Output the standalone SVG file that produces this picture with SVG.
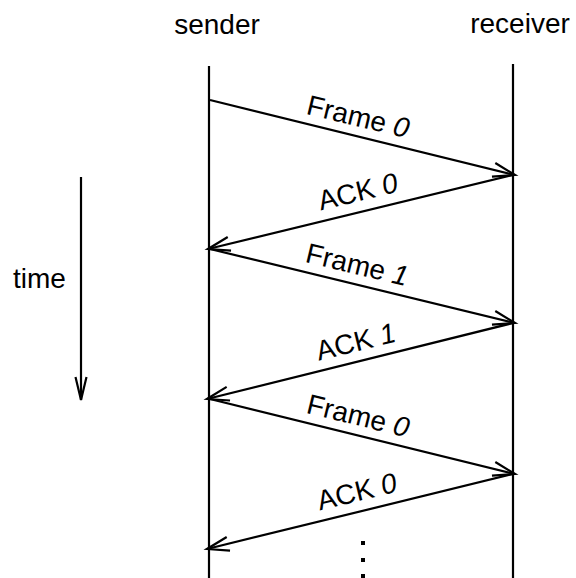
<svg xmlns="http://www.w3.org/2000/svg" width="576" height="578" viewBox="0 0 576 578">
<style>
text{font-family:"Liberation Sans",Arial,sans-serif;font-size:28px;fill:#000}
.d{font-style:italic}
.ln{stroke:#000;stroke-width:2.2;fill:none}
.ar{stroke:#000;stroke-width:2.2;fill:none;marker-end:url(#ah)}
</style>
<defs>
<marker id="ah" markerUnits="userSpaceOnUse" viewBox="-24 -8 26 16" refX="0" refY="0" markerWidth="26" markerHeight="16" orient="auto" overflow="visible">
<path d="M-22,-7 L0,0 L-22,7" fill="none" stroke="#000" stroke-width="2.2"/>
</marker>
<marker id="ta" markerUnits="userSpaceOnUse" viewBox="-26 -8 28 16" refX="0" refY="0" markerWidth="28" markerHeight="16" orient="auto" overflow="visible">
<path d="M-23,-5.5 L0,0 L-23,5.5" fill="none" stroke="#000" stroke-width="2.2"/>
</marker>
</defs>
<g id="sender">
<text x="217" y="34" text-anchor="middle">sender</text>
<line class="ln" x1="209" y1="66" x2="209" y2="578"/>
</g>
<g id="receiver">
<text x="520" y="33" text-anchor="middle">receiver</text>
<line class="ln" x1="513" y1="64" x2="513" y2="578"/>
</g>
<g id="time">
<text x="13" y="288">time</text>
<line class="ln" x1="81" y1="177" x2="81" y2="400" style="marker-end:url(#ta)"/>
</g>
<g id="connectors">
<line class="ar" x1="210" y1="100" x2="515" y2="175"/>
<line class="ar" x1="513" y1="175" x2="208" y2="249"/>
<line class="ar" x1="210" y1="249" x2="515" y2="323"/>
<line class="ar" x1="513" y1="323" x2="207" y2="399"/>
<line class="ar" x1="210" y1="399" x2="515" y2="474"/>
<line class="ar" x1="513" y1="474" x2="207" y2="549"/>
</g>
<g id="labels">
<text transform="translate(356,126) rotate(13.5)" text-anchor="middle">Frame <tspan class="d">0</tspan></text>
<text transform="translate(360,201) rotate(-13.7)" text-anchor="middle">ACK <tspan class="d">0</tspan></text>
<text transform="translate(355,274) rotate(13.5)" text-anchor="middle">Frame <tspan class="d">1</tspan></text>
<text transform="translate(358,351) rotate(-13.9)" text-anchor="middle">ACK <tspan class="d">1</tspan></text>
<text transform="translate(356,425) rotate(13.7)" text-anchor="middle">Frame <tspan class="d">0</tspan></text>
<text transform="translate(359,501) rotate(-13.7)" text-anchor="middle">ACK <tspan class="d">0</tspan></text>
</g>
<g id="dots" fill="#000">
<rect x="361" y="541" width="4" height="4"/>
<rect x="361" y="558" width="4" height="4"/>
<rect x="361" y="574" width="4" height="4"/>
</g>
</svg>
